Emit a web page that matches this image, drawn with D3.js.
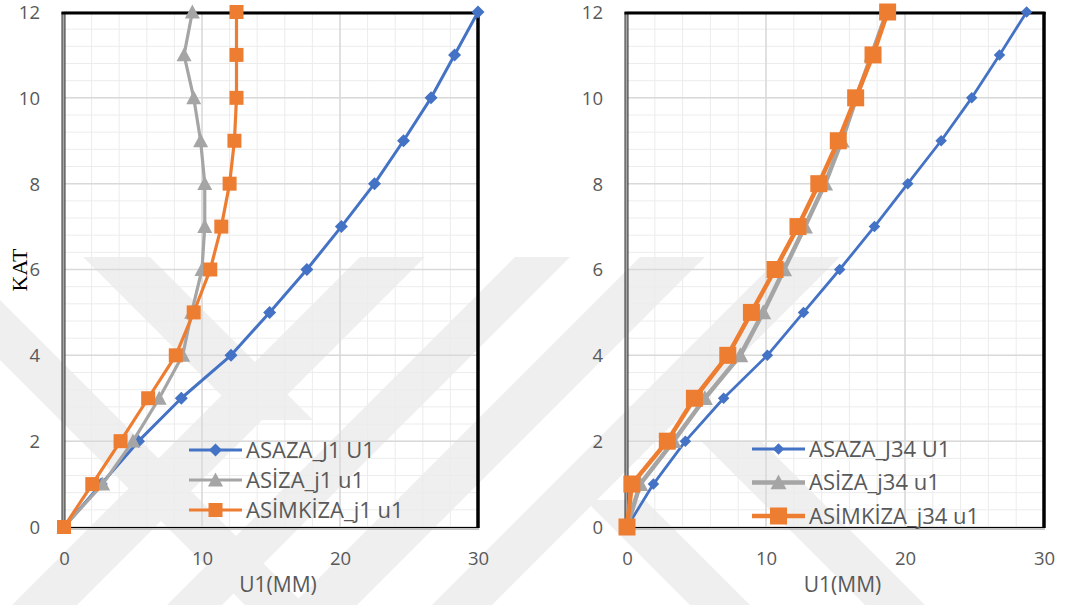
<!DOCTYPE html>
<html>
<head>
<meta charset="utf-8">
<script src="https://cdn.jsdelivr.net/npm/d3@7"></script>
<style>
  body { margin: 0; background: #fff; }
  svg { display: block; }
  .tick text { font-family: "Open Sans", sans-serif; font-size: 18.5px; fill: #595959; }
</style>
</head>
<body>
<svg id="chart" width="1074" height="605"></svg>
<script>
// ---- data ----
const floors = [0, 1, 2, 3, 4, 5, 6, 7, 8, 9, 10, 11, 12];
const xTicks = [0, 10, 20, 30];
const yTicks = [0, 2, 4, 6, 8, 10, 12];

const asazaJ1    = [0, 2.7, 5.4, 8.5, 12.1, 14.9, 17.6, 20.1, 22.5, 24.6, 26.6, 28.3, 30.0];
const asizaJ1    = [0, 2.8, 5.0, 6.9, 8.6, 9.25, 10.0, 10.2, 10.2, 9.9, 9.4, 8.7, 9.3];
const asimkizaJ1 = [0, 2.05, 4.1, 6.1, 8.1, 9.4, 10.6, 11.4, 12.0, 12.35, 12.5, 12.5, 12.5];

const asazaJ34    = [0, 1.9, 4.2, 6.95, 10.1, 12.7, 15.3, 17.8, 20.2, 22.6, 24.8, 26.8, 28.75];
const asizaJ34    = [0, 0.95, 3.35, 5.6, 8.15, 9.8, 11.3, 12.8, 14.25, 15.45, 16.5, 17.6, 18.7];
const asimkizaJ34 = [0, 0.35, 2.9, 4.85, 7.25, 8.95, 10.65, 12.3, 13.8, 15.2, 16.45, 17.7, 18.75];

const namesLeft  = ["ASAZA_J1 U1", "ASİZA_j1 u1", "ASİMKİZA_j1 u1"];
const namesRight = ["ASAZA_J34 U1", "ASİZA_j34 u1", "ASİMKİZA_j34 u1"];
const xTitle = "U1(MM)";
const yTitle = "KAT";

const colors = ["#4472C4", "#A5A5A5", "#ED7D31"];
const shapes = ["diamond", "triangle", "square"];

const svg = d3.select("#chart");

// ---- faint background watermark (decoration) ----
const wm = svg.append("g").attr("fill", "#efefef");
const wmTop = 257, wmBot = 605;
function upBand(x0, x1) {
  const d = wmBot - wmTop;
  return [[x0, wmTop], [x1, wmTop], [x1 - d, wmBot], [x0 - d, wmBot]];
}
function downBand(x0, x1, y0, y1) {
  const d = y1 - y0;
  return [[x0, y0], [x1, y0], [x1 + d, y1], [x0 + d, y1]];
}
[upBand(360, 425), upBand(515, 570), upBand(640, 705), upBand(780, 840),
 downBand(83, 150, wmTop, 420), downBand(-60, 0, 300, wmBot),
 downBand(585, 645, 500, wmBot), downBand(700, 760, 440, wmBot)]
  .forEach(p => wm.append("polygon").attr("points", p.map(q => q.join(",")).join(" ")));

function markerPath(shape, size) {
  const h = size / 2;
  if (shape === "diamond") return `M0,${-h}L${h},0L0,${h}L${-h},0Z`;
  if (shape === "triangle") return `M0,${-h}L${h},${h * 0.85}L${-h},${h * 0.85}Z`;
  return `M${-h},${-h}H${h}V${h}H${-h}Z`;
}

function panel(cfg) {
  const x = d3.scaleLinear().domain([0, 30]).range([cfg.x0, cfg.x1]);
  const y = d3.scaleLinear().domain([0, 12]).range([527, 12]);
  const g = svg.append("g");

  const minorX = d3.range(0, 30.01, 2);
  const minorY = d3.range(0, 12.01, 0.4);
  g.selectAll(".mx").data(minorX).enter().append("line")
    .attr("x1", d => x(d)).attr("x2", d => x(d)).attr("y1", y(0)).attr("y2", y(12))
    .attr("stroke", "#ececec").attr("stroke-width", 1);
  g.selectAll(".my").data(minorY).enter().append("line")
    .attr("y1", d => y(d)).attr("y2", d => y(d)).attr("x1", x(0)).attr("x2", x(30))
    .attr("stroke", "#ececec").attr("stroke-width", 1);
  g.selectAll(".Mx").data(xTicks).enter().append("line")
    .attr("x1", d => x(d)).attr("x2", d => x(d)).attr("y1", y(0)).attr("y2", y(12))
    .attr("stroke", "#d9d9d9").attr("stroke-width", 1.5);
  g.selectAll(".My").data(yTicks).enter().append("line")
    .attr("y1", d => y(d)).attr("y2", d => y(d)).attr("x1", x(0)).attr("x2", x(30))
    .attr("stroke", "#d9d9d9").attr("stroke-width", 1.5);

  // frame
  g.append("line").attr("x1", x(0) - 0.5).attr("x2", x(0) - 0.5).attr("y1", y(12)).attr("y2", y(0) + 2)
    .attr("stroke", "#a6a6a6").attr("stroke-width", 2.5);
  g.append("line").attr("x1", x(0) + 1).attr("x2", x(0) + 1).attr("y1", y(12)).attr("y2", y(0))
    .attr("stroke", "#000").attr("stroke-width", 0.8);
  g.append("line").attr("x1", x(0) - 2).attr("x2", x(0) - 2).attr("y1", y(12)).attr("y2", y(0) + 2)
    .attr("stroke", "#000").attr("stroke-width", 0.8);
  g.append("line").attr("x1", x(0)).attr("x2", x(30) + 1).attr("y1", y(0) + 2).attr("y2", y(0) + 2)
    .attr("stroke", "#b0b0b0").attr("stroke-width", 1.5);
  g.append("line").attr("x1", x(0)).attr("x2", x(30)).attr("y1", y(0) + 0.5).attr("y2", y(0) + 0.5)
    .attr("stroke", "#000").attr("stroke-width", 1.2);
  g.append("line").attr("x1", x(0) - 2.5).attr("x2", x(30) + 1.5).attr("y1", y(12) + 1).attr("y2", y(12) + 1)
    .attr("stroke", "#000").attr("stroke-width", 3);
  g.append("line").attr("x1", x(30)).attr("x2", x(30)).attr("y1", y(12)).attr("y2", y(0) + 1)
    .attr("stroke", "#000").attr("stroke-width", 3.5);

  const ax = g.append("g").attr("transform", `translate(0,${y(0) + 32})`)
    .call(d3.axisBottom(x).tickValues(xTicks).tickSize(0).tickPadding(0));
  ax.select(".domain").remove();
  ax.selectAll("text").attr("dy", "0.35em");
  const ay = g.append("g").attr("transform", `translate(${x(0) - 24},0)`)
    .call(d3.axisLeft(y).tickValues(yTicks).tickSize(0).tickPadding(0));
  ay.select(".domain").remove();
  ay.selectAll("text").attr("dy", "0.35em");

  g.append("text").attr("x", (x(0) + x(30)) / 2 + 7).attr("y", 585).attr("dy", "0.35em")
    .attr("text-anchor", "middle").attr("font-family", "Open Sans, sans-serif")
    .attr("font-size", 21).attr("fill", "#595959").text(xTitle);

  const line = d3.line().x(d => x(d[0])).y(d => y(d[1]));
  cfg.series.forEach((vals, i) => {
    const pts = vals.map((v, k) => [v, floors[k]]);
    g.append("path").datum(pts).attr("d", line).attr("fill", "none")
      .attr("stroke", colors[i]).attr("stroke-width", cfg.lw[i]).attr("stroke-linejoin", "round");
    g.selectAll(".m" + i).data(pts).enter().append("path")
      .attr("transform", d => `translate(${x(d[0])},${y(d[1])})`)
      .attr("d", markerPath(shapes[i], cfg.ms[i])).attr("fill", colors[i]);
  });

  cfg.names.forEach((n, i) => {
    const ly = cfg.legY + i * cfg.legDy;
    g.append("line").attr("x1", cfg.legX).attr("x2", cfg.legX + 53).attr("y1", ly).attr("y2", ly)
      .attr("stroke", colors[i]).attr("stroke-width", cfg.lw[i]);
    g.append("path").attr("transform", `translate(${cfg.legX + 26.5},${ly})`)
      .attr("d", markerPath(shapes[i], cfg.ms[i])).attr("fill", colors[i]);
    g.append("text").attr("x", cfg.legX + 57).attr("y", ly).attr("dy", "0.35em")
      .attr("font-family", "Open Sans, sans-serif").attr("font-size", 22).attr("fill", "#595959")
      .text(n);
  });
}

panel({ x0: 64, x1: 478, series: [asazaJ1, asizaJ1, asimkizaJ1], names: namesLeft,
        lw: [3, 3.2, 3.2], ms: [13, 15, 14], legX: 189, legY: 450, legDy: 30 });
panel({ x0: 627, x1: 1044, series: [asazaJ34, asizaJ34, asimkizaJ34], names: namesRight,
        lw: [2.8, 4.5, 4.5], ms: [11.5, 16, 17], legX: 752, legY: 449, legDy: 33.5 });

svg.append("text").attr("transform", "translate(19,270) rotate(-90)").attr("dy", "0.35em")
  .attr("text-anchor", "middle").attr("font-family", "Liberation Serif, Times New Roman, serif")
  .attr("font-size", 22).attr("fill", "#000").text(yTitle);
</script>
</body>
</html>
